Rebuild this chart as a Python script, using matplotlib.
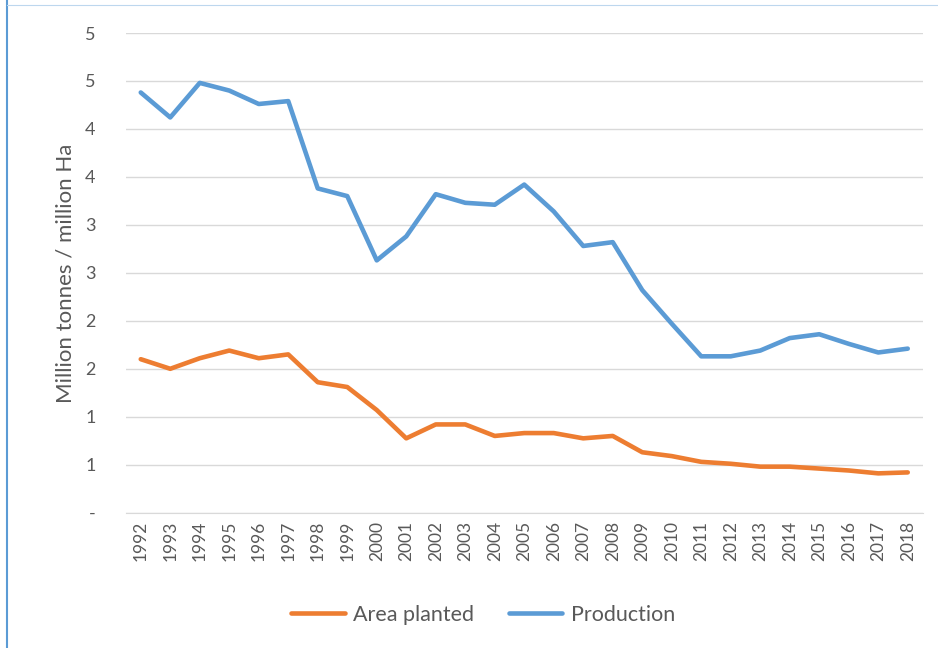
import matplotlib
matplotlib.use("Agg")
import matplotlib.pyplot as plt
from matplotlib.ticker import FuncFormatter, MultipleLocator
from matplotlib.lines import Line2D
import numpy as np

years = [str(y) for y in range(1992, 2019)]
production = [4.38, 4.12, 4.48, 4.40, 4.26, 4.29, 3.38, 3.30, 2.63, 2.88,
              3.32, 3.23, 3.21, 3.42, 3.14, 2.78, 2.82, 2.32, 1.97, 1.63,
              1.63, 1.69, 1.82, 1.86, 1.76, 1.67, 1.71]
area_planted = [1.60, 1.50, 1.61, 1.69, 1.61, 1.65, 1.36, 1.31, 1.07, 0.775,
                0.92, 0.92, 0.80, 0.83, 0.83, 0.775, 0.80, 0.63, 0.59, 0.53,
                0.51, 0.48, 0.48, 0.46, 0.44, 0.41, 0.42]

plt.rcParams['font.family'] = ['Lato', 'DejaVu Sans']
text_color = '#595959'

fig = plt.figure(figsize=(9.38, 6.48), dpi=100)
ax = fig.add_axes([126/938, 1 - 512.7/648, (922.5-126)/938, (512.7-33)/648])

x = np.arange(len(years))
ax.plot(x, area_planted, color='#ED7D31', lw=3.3, solid_capstyle='round',
        solid_joinstyle='round', label='Area planted')
ax.plot(x, production, color='#5B9BD5', lw=3.3, solid_capstyle='round',
        solid_joinstyle='round', label='Production')

ax.set_xlim(-0.5, len(years) - 0.5)
ax.set_ylim(0, 5)
ax.yaxis.set_major_locator(MultipleLocator(0.5))
ax.yaxis.set_major_formatter(FuncFormatter(lambda v, p: '-' if abs(v) < 1e-9 else str(int(v + 0.5))))
ax.set_xticks(x)
ax.set_xticklabels(years, rotation=90)
ax.grid(axis='y', color='#D9D9D9', lw=1)
ax.set_axisbelow(True)
for s in ['top', 'right', 'left']:
    ax.spines[s].set_visible(False)
ax.spines['bottom'].set_color('#D9D9D9')
ax.tick_params(axis='y', length=0, pad=22, labelsize=13, labelcolor=text_color)
ax.tick_params(axis='x', length=0, pad=6, labelsize=12.5, labelcolor=text_color)
ax.set_ylabel('Million tonnes / million Ha', fontsize=16, color=text_color, labelpad=7)

fig.legend(loc='center', bbox_to_anchor=(483/938, 1 - 615/648), ncol=2, frameon=False,
           fontsize=15.5, labelcolor=text_color, handlelength=2.5, columnspacing=1.6,
           handletextpad=0.4)

fig.add_artist(Line2D([7/938, 7/938], [0, 1], color='#5B9BD5', lw=1.5, transform=fig.transFigure))
fig.add_artist(Line2D([7/938, 1], [1 - 5/648, 1 - 5/648], color='#BDD7EE', lw=0.8, transform=fig.transFigure))

fig.savefig('out.png', dpi=100)
